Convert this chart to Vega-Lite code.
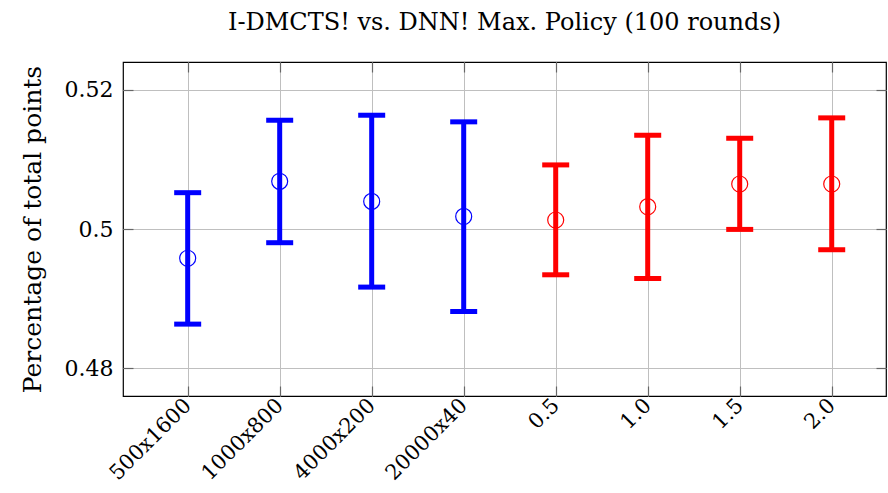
{
  "$schema": "https://vega.github.io/schema/vega-lite/v6.json",
  "autosize": {"type": "none"},
  "padding": {"left": 123, "top": 62, "right": 2, "bottom": 97},
  "width": 763,
  "height": 334,
  "title": {
    "text": "I-DMCTS! vs. DNN! Max. Policy (100 rounds)",
    "font": "DejaVu Serif",
    "fontSize": 24,
    "fontWeight": "normal",
    "color": "black",
    "offset": 26,
    "anchor": "middle"
  },
  "config": {
    "view": {"stroke": "black", "strokeWidth": 1.2},
    "axis": {
      "labelFont": "DejaVu Serif",
      "titleFont": "DejaVu Serif",
      "labelColor": "black",
      "titleColor": "black",
      "gridColor": "#bfbfbf",
      "gridWidth": 1,
      "domain": false,
      "ticks": true,
      "tickColor": "#666666",
      "tickWidth": 1.2,
      "tickSize": -10
    }
  },
  "resolve": {"axis": {"x": "independent", "y": "independent"}},
  "data": {
    "values": [
      {"pos": 1, "label": "500x1600", "group": "size", "mean": 0.4958, "low": 0.48633, "high": 0.50522},
      {"pos": 2, "label": "1000x800", "group": "size", "mean": 0.50685, "low": 0.49803, "high": 0.51563},
      {"pos": 3, "label": "4000x200", "group": "size", "mean": 0.50397, "low": 0.49165, "high": 0.51635},
      {"pos": 4, "label": "20000x40", "group": "size", "mean": 0.50181, "low": 0.48814, "high": 0.5154},
      {"pos": 5, "label": "0.5", "group": "c", "mean": 0.50129, "low": 0.49342, "high": 0.50921},
      {"pos": 6, "label": "1.0", "group": "c", "mean": 0.50321, "low": 0.49289, "high": 0.51347},
      {"pos": 7, "label": "1.5", "group": "c", "mean": 0.50647, "low": 0.49994, "high": 0.51304},
      {"pos": 8, "label": "2.0", "group": "c", "mean": 0.50647, "low": 0.49702, "high": 0.51597}
    ]
  },
  "encoding": {
    "color": {
      "field": "group",
      "type": "nominal",
      "scale": {"domain": ["size", "c"], "range": ["#0000ff", "#ff0000"]},
      "legend": null
    }
  },
  "layer": [
    {
      "mark": {"type": "rule", "strokeWidth": 5, "opacity": 1},
      "encoding": {
        "x": {
          "field": "pos",
          "type": "quantitative",
          "scale": {"domain": [0.297, 8.59], "nice": false, "zero": false},
          "axis": {
            "title": null,
            "values": [1, 2, 3, 4, 5, 6, 7, 8],
            "labelExpr": "['500x1600','1000x800','4000x200','20000x40','0.5','1.0','1.5','2.0'][datum.value-1]",
            "labelAngle": -45,
            "labelAlign": "right",
            "labelBaseline": "middle",
            "labelFont": "DejaVu Serif",
            "labelFontSize": 21,
            "labelPadding": 16,
            "grid": true
          }
        },
        "y": {
          "field": "low",
          "type": "quantitative",
          "scale": {"domain": [0.476, 0.524], "nice": false, "zero": false},
          "axis": {
            "title": "Percentage of total points",
            "titleFontSize": 25,
            "titleFontWeight": "normal",
            "titlePadding": 19,
            "values": [0.48, 0.5, 0.52],
            "labelExpr": "datum.value == 0.5 ? '0.5' : format(datum.value, '.2f')",
            "labelFont": "DejaVu Serif",
            "labelFontSize": 22,
            "labelPadding": 20,
            "grid": true
          }
        },
        "y2": {"field": "high"}
      }
    },
    {
      "mark": {"type": "tick", "orient": "horizontal", "size": 27, "thickness": 5, "opacity": 1},
      "encoding": {
        "x": {
          "field": "pos",
          "type": "quantitative",
          "axis": {"orient": "top", "title": null, "values": [1, 2, 3, 4, 5, 6, 7, 8], "labels": false, "grid": false}
        },
        "y": {
          "field": "low",
          "type": "quantitative",
          "axis": {"orient": "right", "title": null, "values": [0.48, 0.5, 0.52], "labels": false, "grid": false}
        }
      }
    },
    {
      "mark": {"type": "tick", "orient": "horizontal", "size": 27, "thickness": 5, "opacity": 1},
      "encoding": {
        "x": {"field": "pos", "type": "quantitative", "axis": null},
        "y": {"field": "high", "type": "quantitative", "axis": null}
      }
    },
    {
      "mark": {"type": "point", "shape": "circle", "size": 256, "strokeWidth": 1.2, "filled": false, "opacity": 1},
      "encoding": {
        "x": {"field": "pos", "type": "quantitative", "axis": null},
        "y": {"field": "mean", "type": "quantitative", "axis": null}
      }
    }
  ]
}
